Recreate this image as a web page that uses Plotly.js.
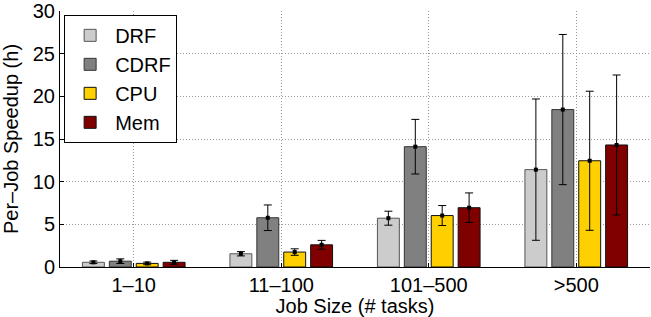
<!DOCTYPE html>
<html><head><meta charset="utf-8">
<script src="https://cdn.plot.ly/plotly-3.0.1.min.js"></script>
<style>html,body{margin:0;padding:0;background:#fff;}#chart{width:651px;height:317px;}</style>
</head><body><div id="chart"></div>
<script>
const categories = ["1–10", "11–100", "101–500", ">500"];
const seriesNames = ["DRF", "CDRF", "CPU", "Mem"];
const yTicks = [0, 5, 10, 15, 20, 25, 30];
const drf  = [0.55, 1.55, 5.72, 11.41];
const cdrf = [0.68, 5.77, 14.1, 18.45];
const cpu  = [0.42, 1.75, 6.03, 12.45];
const mem  = [0.55, 2.6, 6.95, 14.3];
const drfErr  = [0.15, 0.25, 0.82, 8.28];
const cdrfErr = [0.27, 1.5, 3.2, 8.8];
const cpuErr  = [0.15, 0.38, 1.17, 8.15];
const memErr  = [0.23, 0.52, 1.73, 8.2];

const values = [drf, cdrf, cpu, mem];
const errs = [drfErr, cdrfErr, cpuErr, memErr];
const colors = ["#cccccc", "#808080", "#ffd000", "#800000"];
const outlines = ["#555555", "#333333", "#111111", "#111111"];

const slot = 0.1824, barW = 0.1486;
const xs = categories.map((c, i) => i + 1);
const traces = [];
values.forEach((v, k) => {
  const center = (k - 1.5) * slot;
  traces.push({
    type: "bar", name: seriesNames[k], x: xs, y: v,
    width: barW, offset: center - barW / 2,
    marker: {color: colors[k], line: {color: outlines[k], width: 1}},
    error_y: {type: "data", array: errs[k], visible: true, color: "#000", thickness: 1, width: 4},
    showlegend: true
  });
});
values.forEach((v, k) => {
  const center = (k - 1.5) * slot;
  traces.push({
    type: "scatter", mode: "markers", x: xs.map(x => x + center), y: v,
    marker: {symbol: "square", size: 4, color: "#000"}, showlegend: false, hoverinfo: "skip"
  });
});

const layout = {
  width: 651, height: 317,
  margin: {l: 60, r: 1, t: 11, b: 50},
  paper_bgcolor: "#fff", plot_bgcolor: "#fff",
  font: {family: "Liberation Sans, Arial, sans-serif", size: 20, color: "#000"},
  barmode: "overlay",
  xaxis: {
    range: [0.5, 4.5], tickvals: xs, ticktext: categories,
    showgrid: true, gridcolor: "#999999", griddash: "1px,2px", gridwidth: 1,
    showline: true, linecolor: "#000", linewidth: 1,
    ticks: "inside", ticklen: 4, tickcolor: "#000",
    zeroline: false, tickfont: {size: 20},
    title: {text: "Job Size (# tasks)", font: {size: 20}, standoff: 0}
  },
  yaxis: {
    range: [0, 30.001], tickvals: yTicks,
    showgrid: true, gridcolor: "#999999", griddash: "1px,2px", gridwidth: 1,
    showline: true, linecolor: "#000", linewidth: 1,
    ticks: "inside", ticklen: 4, tickcolor: "#000",
    ticklabeloverflow: "allow",
    zeroline: false, tickfont: {size: 20},
    title: {text: "Per–Job Speedup (h)", font: {size: 20}, standoff: 8}
  },
  legend: {
    x: 0.007, y: 0.985, xanchor: "left", yanchor: "top",
    bgcolor: "#fff", bordercolor: "#000", borderwidth: 1,
    font: {size: 20}, itemwidth: 40, tracegroupgap: 0
  },
  showlegend: true
};
Plotly.newPlot("chart", traces, layout, {displayModeBar: false, staticPlot: true});
</script></body></html>
